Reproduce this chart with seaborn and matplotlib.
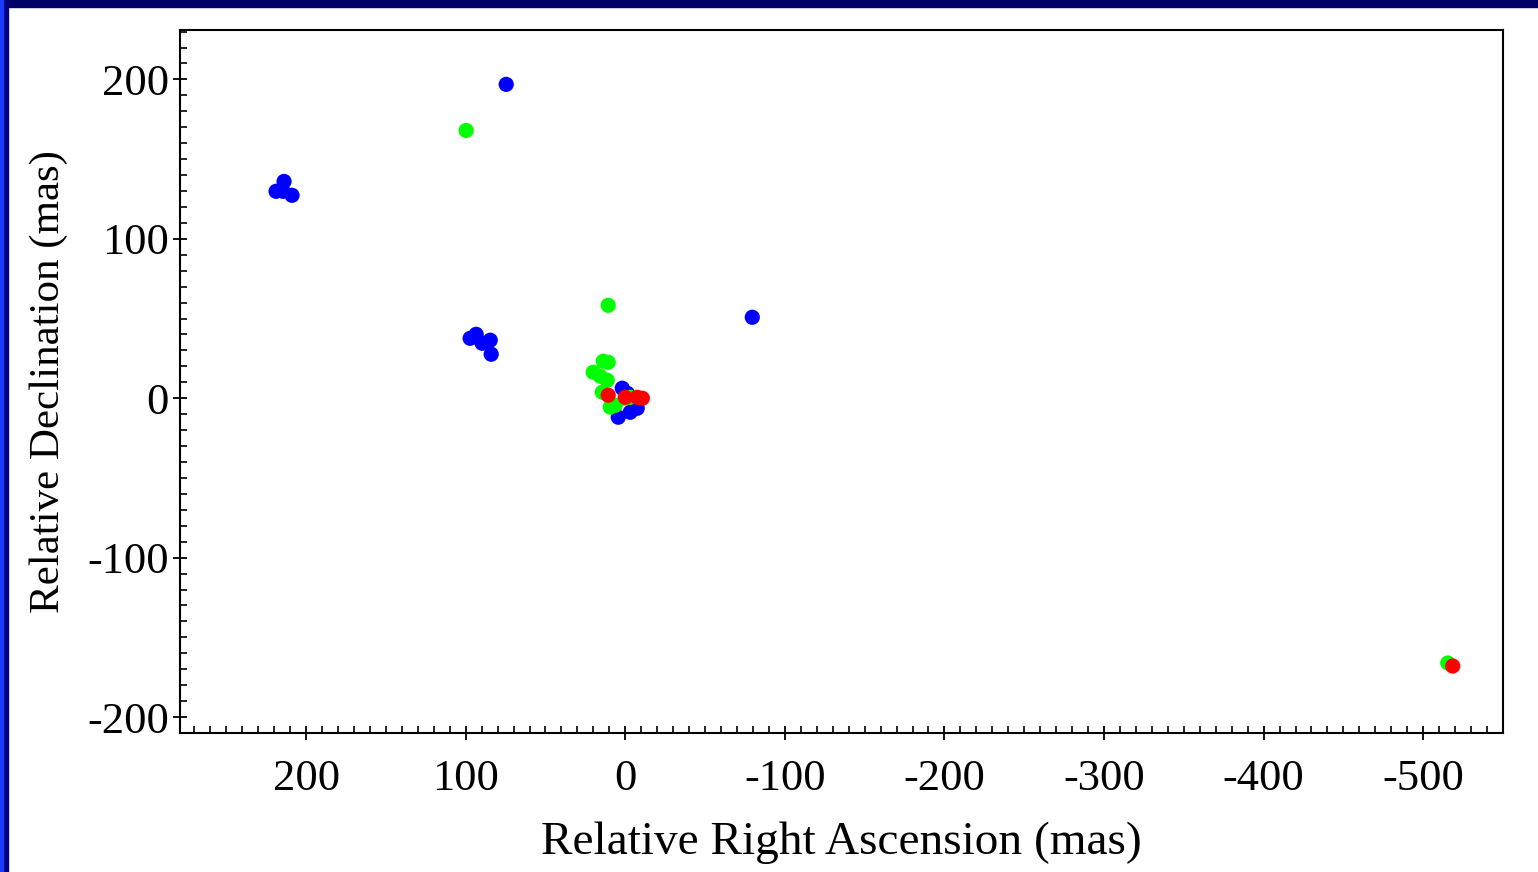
"""Relative positions of maser spots (RA vs Dec offsets, mas)."""

import matplotlib
matplotlib.use('Agg')
import matplotlib.pyplot as plt
from matplotlib.patches import Rectangle
from matplotlib.ticker import MultipleLocator
import pandas as pd
import seaborn as sns

# Datos (mas)
blue_ra = [74.6, 218.8, 213.8, 208.8, 214.4, -79.6,
           97.2, 93.4, 89.7, 84.6, 84.0,
           1.9, -7.5, 4.4, -3.1, -1.3]
blue_dec = [196.9, 129.8, 136.0, 127.3, 129.8, 50.8,
            37.6, 40.1, 34.5, 36.4, 27.6,
            6.3, -6.3, -11.9, -8.8, 3.1]

green_ra = [99.7, 10.7, 13.8, 10.7, 20.1, 15.7, 11.3, 14.4, 9.4, 6.3, 0.0, -3.1, -515.4]
green_dec = [168.0, 58.3, 23.2, 22.6, 16.3, 13.8, 11.3, 3.8, -5.6, -4.4, 0.0, 0.6, -166.1]

red_ra = [10.7, 0.0, -7.5, -10.7, -518.5]
red_dec = [1.9, 0.6, 0.6, 0.0, -168.0]

groups = ['blue', 'green', 'red']

df = pd.concat([
    pd.DataFrame({'ra': blue_ra, 'dec': blue_dec, 'grupo': 'blue'}),
    pd.DataFrame({'ra': green_ra, 'dec': green_dec, 'grupo': 'green'}),
    pd.DataFrame({'ra': red_ra, 'dec': red_dec, 'grupo': 'red'}),
], ignore_index=True)

sns.set_style('white')
plt.rcParams['font.family'] = ['Liberation Serif', 'DejaVu Serif']
plt.rcParams['axes.unicode_minus'] = False
plt.rcParams['text.color'] = 'black'
plt.rcParams['axes.labelcolor'] = 'black'
plt.rcParams['xtick.color'] = 'black'
plt.rcParams['ytick.color'] = 'black'

fig = plt.figure(figsize=(15.38, 8.72), dpi=100)
ax = fig.add_axes([180 / 1538, 1 - 733 / 872, (1503 - 180) / 1538, (733 - 30) / 872])

sns.scatterplot(data=df, x='ra', y='dec', hue='grupo', hue_order=groups,
                palette={'blue': '#0000ff', 'green': '#00ff00', 'red': '#ff0000'},
                s=120, linewidth=0, legend=False, ax=ax)

ax.set_xlim(279, -550)
ax.set_ylim(-210, 231)
ax.xaxis.set_major_locator(MultipleLocator(100))
ax.xaxis.set_minor_locator(MultipleLocator(10))
ax.yaxis.set_major_locator(MultipleLocator(100))
ax.yaxis.set_minor_locator(MultipleLocator(10))
ax.tick_params(which='major', direction='inout', length=10, width=1.3,
               labelsize=32, bottom=True, left=True)
ax.tick_params(axis='x', which='major', pad=14)
ax.tick_params(axis='y', which='major', pad=3)
ax.tick_params(which='minor', direction='in', length=5, width=1.2,
               bottom=True, left=True)
for s in ax.spines.values():
    s.set_color('black')
    s.set_linewidth(1.5)

ax.set_xlabel('Relative Right Ascension (mas)', fontsize=34, labelpad=16)
ax.set_ylabel('Relative Declination (mas)', fontsize=31)
ax.yaxis.set_label_coords(-0.085, 0.5)

# Marco de la diapositiva
fig.patches.append(Rectangle((0, 1 - 7 / 872), 1, 7 / 872, transform=fig.transFigure,
                             color='#000066', zorder=10))
fig.patches.append(Rectangle((0, 0), 8 / 1538, 1, transform=fig.transFigure,
                             color='#000080', zorder=10))
fig.patches.append(Rectangle((0, 0), 3 / 1538, 1, transform=fig.transFigure,
                             color='#1a3cff', zorder=11))

fig.savefig('out.png', dpi=100, facecolor='white')
plt.close(fig)
